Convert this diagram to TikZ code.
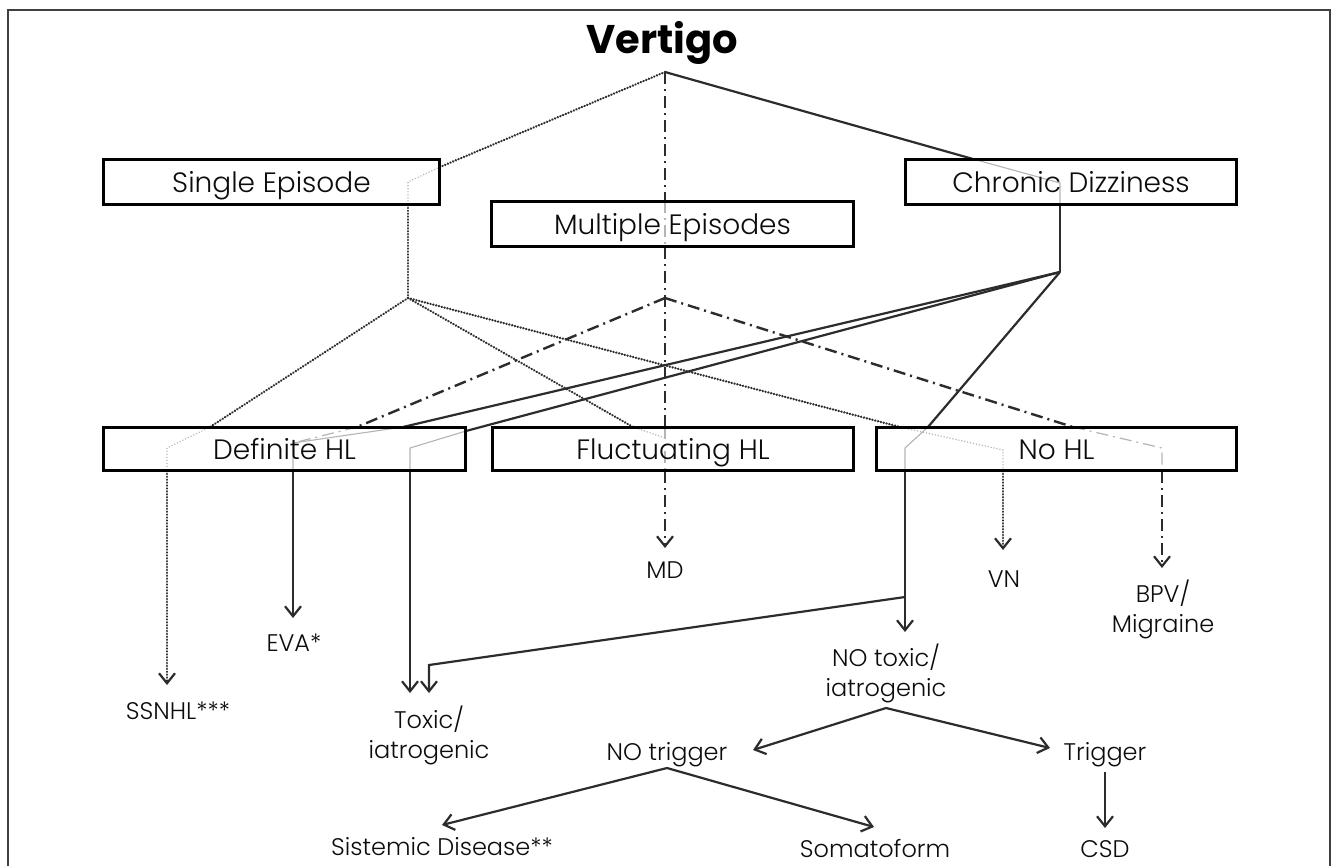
\documentclass[tikz,border=0pt]{standalone}
\usepackage{fontspec}
\setmainfont{Poppins}[UprightFont=* Light, BoldFont=* Bold]
\usetikzlibrary{arrows.meta}
\definecolor{lnc}{HTML}{2C2C2C}
\definecolor{txc}{HTML}{0C0C0C}
\definecolor{fnt}{HTML}{B4B4B4}
\begin{document}
\begin{tikzpicture}[x=1pt,y=-1pt,
  box/.style={draw=black, line width=3pt, inner sep=0pt, text height=20pt, text depth=0pt,
    font=\fontsize{28}{30}\selectfont, text=txc},
  lbl/.style={font=\fontsize{24}{30}\selectfont, align=center, inner sep=0pt, text=txc, anchor=base},
  ttl/.style={font=\fontsize{40}{44}\selectfont\bfseries, inner sep=0pt, text=black, anchor=base},
  ln/.style={draw=lnc, line width=2.2pt},
  dotl/.style={draw=lnc, line width=2.6pt, dash pattern=on 0.01pt off 2.9pt, line cap=round},
  ddl/.style={draw=lnc, line width=2.4pt, dash pattern=on 12pt off 5pt on 2pt off 5pt},
  fsol/.style={draw=fnt, line width=1.1pt},
  fdot/.style={draw=fnt, line width=1.6pt, dash pattern=on 0.01pt off 3pt, line cap=round},
  fdd/.style={draw=fnt, line width=1.2pt, dash pattern=on 12pt off 5pt on 2pt off 5pt},
  arr/.style={-{Straight Barb[length=10pt,width=16pt,line width=2.2pt]}},
  frm/.style={draw=black!75, line width=1.4pt}
]
\useasboundingbox (0,0) rectangle (1338,865);
\fill[white] (0,0) rectangle (1338,865);
\draw[frm] (8,880) -- (8,10) -- (1330,10) -- (1330,880);

% title
\node[ttl] (vert) at (662,53) {Vertigo};
\coordinate (apex) at (665,72);

% junctions and bend points
\coordinate (S) at (408,298);
\coordinate (M) at (665,298);
\coordinate (C) at (1060,272);
\coordinate (J) at (905,597);

\coordinate (seIn) at (440,167);   \coordinate (seB) at (408,182);   \coordinate (seOut) at (408,205);
\coordinate (meIn) at (665,201);   \coordinate (meOut) at (665,247);
\coordinate (cdIn) at (973,159);   \coordinate (cdB) at (1060,183);  \coordinate (cdOut) at (1060,205);

\coordinate (dSs) at (210,427);    \coordinate (dSsB) at (167,448);  \coordinate (dSsO) at (167,471);
\coordinate (dMe) at (357,427);    \coordinate (dEvaB) at (293,443); \coordinate (dEvaO) at (293,471);
\coordinate (dCe) at (403,427);
\coordinate (dCt) at (466,431);    \coordinate (dCtB) at (410,448);  \coordinate (dCtO) at (410,471);
\coordinate (fS) at (633,427);     \coordinate (fSB) at (665,438);
\coordinate (fIn) at (665,427);    \coordinate (fOut) at (665,471);
\coordinate (nC) at (928,427);     \coordinate (nCB) at (905,448);   \coordinate (nCO) at (905,471);
\coordinate (nS) at (900,427);     \coordinate (nSB) at (1003,450);  \coordinate (nSO) at (1003,471);
\coordinate (nM) at (1073,427);    \coordinate (nMB) at (1162,448);  \coordinate (nMO) at (1162,471);

\coordinate (tSs) at (167,685);
\coordinate (tEva) at (293,618);
\coordinate (tTox1) at (410,693);
\coordinate (tTox2) at (429,693);  \coordinate (toxB) at (429,665);
\coordinate (tMd) at (665,548);
\coordinate (tVn) at (1003,550);
\coordinate (tBpv) at (1162,568);
\coordinate (tNot) at (905,632);
\coordinate (notS) at (886,708);
\coordinate (tNtr) at (753,750);
\coordinate (tTr) at (1050,748);
\coordinate (ntrS) at (667,768);
\coordinate (tSis) at (442,825);
\coordinate (tSom) at (874,827);
\coordinate (trS) at (1105,772);
\coordinate (tCsd) at (1105,828);

% ---- Single Episode (dotted)
\draw[dotl] (apex) -- (seIn);
\draw[fdot] (seIn) -- (seB) -- (seOut);
\draw[dotl] (seOut) -- (S);
\draw[dotl] (S) -- (dSs);
\draw[fdot] (dSs) -- (dSsB) -- (dSsO);
\draw[dotl,arr] (dSsO) -- (tSs);
\draw[dotl] (S) -- (fS);
\draw[fdot] (fS) -- (fSB);
\draw[dotl] (S) -- (nS);
\draw[fdot] (nS) -- (nSB) -- (nSO);
\draw[dotl,arr] (nSO) -- (tVn);

% ---- Multiple Episodes (dash-dot)
\draw[ddl] (apex) -- (meIn);
\draw[fdd] (meIn) -- (meOut);
\draw[ddl] (meOut) -- (M) -- (fIn);
\draw[fdd] (fIn) -- (fOut);
\draw[ddl,arr] (fOut) -- (tMd);
\draw[ddl] (M) -- (dMe);
\draw[fdd] (dMe) -- (dEvaB);
\draw[ddl] (M) -- (nM);
\draw[fdd] (nM) -- (nMB) -- (nMO);
\draw[ddl,arr] (nMO) -- (tBpv);

% ---- Chronic Dizziness (solid)
\draw[ln] (apex) -- (cdIn);
\draw[fsol] (cdIn) -- (cdB) -- (cdOut);
\draw[ln] (cdOut) -- (C);
\draw[ln] (C) -- (dCe);
\draw[fsol] (dCe) -- (dEvaB) -- (dEvaO);
\draw[ln,arr] (dEvaO) -- (tEva);
\draw[ln] (C) -- (dCt);
\draw[fsol] (dCt) -- (dCtB) -- (dCtO);
\draw[ln,arr] (dCtO) -- (tTox1);
\draw[ln] (C) -- (nC);
\draw[fsol] (nC) -- (nCB) -- (nCO);
\draw[ln,arr] (nCO) -- (tNot);
\draw[ln,arr] (J) -- (toxB) -- (tTox2);
\draw[ln,arr] (notS) -- (tNtr);
\draw[ln,arr] (notS) -- (tTr);
\draw[ln,arr] (ntrS) -- (tSis);
\draw[ln,arr] (ntrS) -- (tSom);
\draw[ln,arr] (trS) -- (tCsd);

% ---- boxes
\node[box, minimum width=336pt, minimum height=45pt] (se) at (271.5,182) {Single Episode};
\node[box, minimum width=362pt, minimum height=45pt] (me) at (672.5,224) {Multiple Episodes};
\node[box, minimum width=331pt, minimum height=45pt] (cd) at (1071,182) {Chronic Dizziness};
\node[box, minimum width=362pt, minimum height=43pt] (dhl) at (284.5,449) {Definite HL};
\node[box, minimum width=361pt, minimum height=43pt] (fhl) at (673,449) {Fluctuating HL};
\node[box, minimum width=360pt, minimum height=43pt] (nhl) at (1056.5,449) {No HL};

% ---- labels (two-line labels: anchor base = last line)
\node[lbl] (ssnhl) at (178,719) {SSNHL***};
\node[lbl] (eva) at (294,651) {EVA*};
\node[lbl] (tox) at (429,758) {Toxic/\\iatrogenic};
\node[lbl] (md) at (665,578) {MD};
\node[lbl] (vn) at (1004,587) {VN};
\node[lbl] (bpv) at (1163,632) {BPV/\\Migraine};
\node[lbl] (notox) at (886,696) {NO toxic/\\iatrogenic};
\node[lbl] (notrig) at (667,760) {NO trigger};
\node[lbl] (trig) at (1105,760) {Trigger};
\node[lbl] (sist) at (442,855) {Sistemic Disease**};
\node[lbl] (soma) at (875,857) {Somatoform};
\node[lbl] (csd) at (1105,857) {CSD};
\end{tikzpicture}
\end{document}
